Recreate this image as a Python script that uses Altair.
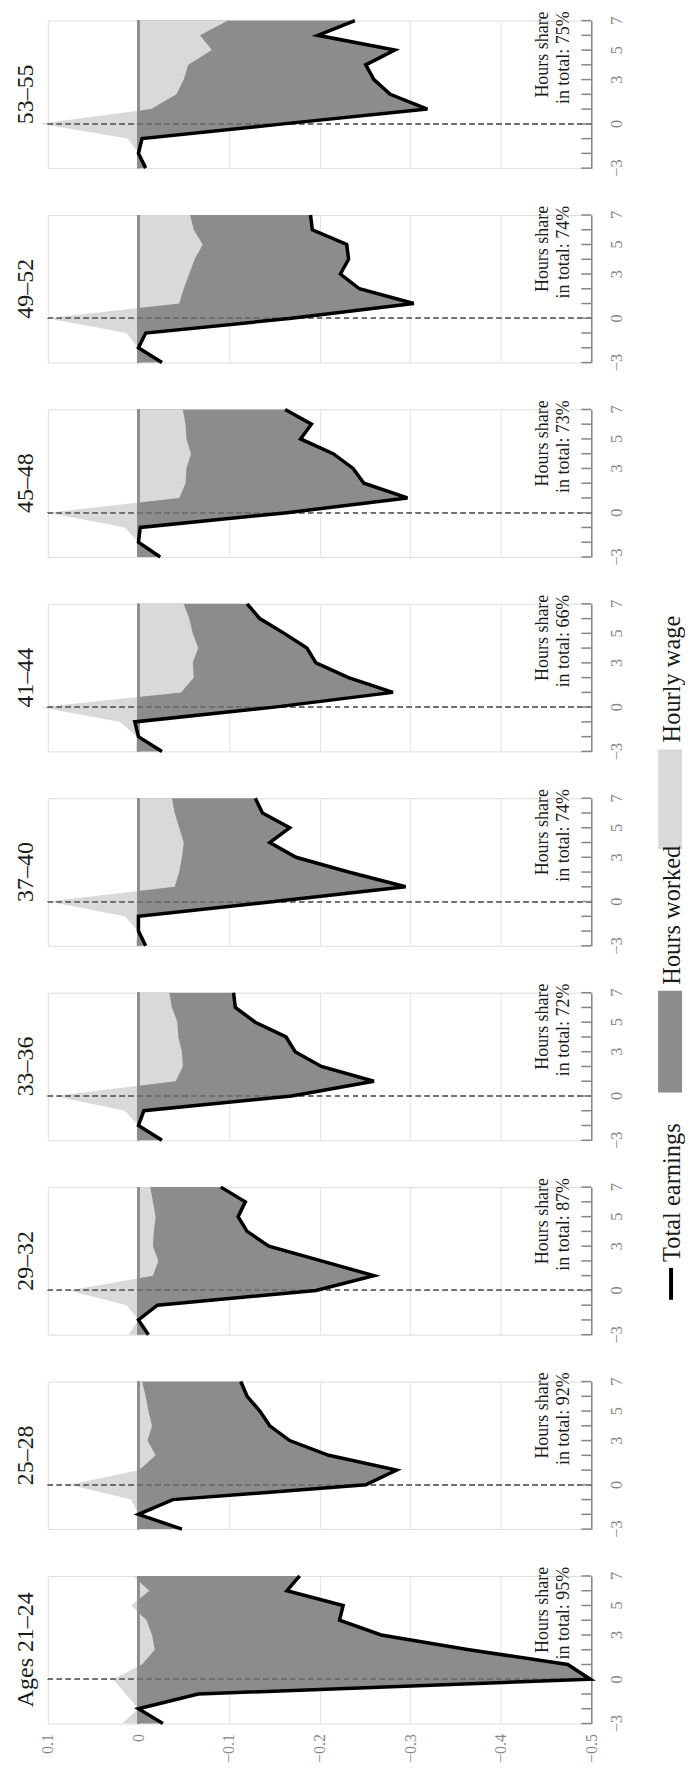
import altair as alt
import pandas as pd

# ---------------- data ----------------
times = [-3, -2, -1, 0, 1, 2, 3, 4, 5, 6, 7]

groups = ["53–55", "49–52", "45–48", "41–44", "37–40", "33–36", "29–32", "25–28", "Ages 21–24"]
hours_share = ["75%", "74%", "73%", "66%", "74%", "72%", "87%", "92%", "95%"]

total_53_55 = [-0.008, 0.0, -0.004, -0.160, -0.319, -0.278, -0.260, -0.251, -0.283, -0.198, -0.239]
wage_53_55 = [0.0, 0.0, 0.012, 0.109, -0.014, -0.042, -0.050, -0.055, -0.081, -0.068, -0.099]

total_49_52 = [-0.026, 0.0, -0.008, -0.169, -0.304, -0.244, -0.223, -0.232, -0.230, -0.192, -0.190]
wage_49_52 = [0.0, 0.001, 0.013, 0.101, -0.045, -0.050, -0.056, -0.062, -0.071, -0.061, -0.057]

total_45_48 = [-0.024, 0.0, -0.002, -0.164, -0.297, -0.249, -0.237, -0.215, -0.179, -0.191, -0.162]
wage_45_48 = [0.0, 0.0, 0.015, 0.100, -0.045, -0.052, -0.053, -0.058, -0.053, -0.052, -0.049]

total_41_44 = [-0.026, 0.0, 0.004, -0.150, -0.281, -0.232, -0.196, -0.186, -0.161, -0.134, -0.120]
wage_41_44 = [0.003, 0.002, 0.020, 0.108, -0.047, -0.061, -0.060, -0.066, -0.060, -0.056, -0.050]

total_37_40 = [-0.008, 0.0, 0.0, -0.150, -0.295, -0.232, -0.174, -0.145, -0.167, -0.137, -0.129]
wage_37_40 = [0.003, 0.001, 0.015, 0.100, -0.040, -0.045, -0.048, -0.050, -0.045, -0.040, -0.037]

total_33_36 = [-0.026, 0.0, -0.006, -0.169, -0.260, -0.202, -0.173, -0.163, -0.129, -0.107, -0.105]
wage_33_36 = [0.0, 0.0, 0.015, 0.093, -0.041, -0.049, -0.048, -0.044, -0.043, -0.037, -0.034]

total_29_32 = [-0.011, 0.0, -0.021, -0.196, -0.260, -0.202, -0.144, -0.120, -0.110, -0.118, -0.091]
wage_29_32 = [0.011, 0.0, 0.013, 0.077, -0.016, -0.022, -0.016, -0.017, -0.019, -0.016, -0.013]

total_25_28 = [-0.048, 0.0, -0.038, -0.251, -0.285, -0.210, -0.167, -0.145, -0.134, -0.120, -0.113]
wage_25_28 = [0.0, 0.0, 0.008, 0.076, -0.001, -0.019, -0.010, -0.015, -0.011, -0.008, -0.004]

total_21_24 = [-0.027, 0.0, -0.066, -0.499, -0.474, -0.365, -0.268, -0.222, -0.226, -0.164, -0.178]
wage_21_24 = [0.018, 0.0, 0.014, 0.028, -0.004, -0.018, -0.015, -0.009, 0.008, -0.012, 0.006]

totals = [total_53_55, total_49_52, total_45_48, total_41_44, total_37_40,
          total_33_36, total_29_32, total_25_28, total_21_24]
wages = [wage_53_55, wage_49_52, wage_45_48, wage_41_44, wage_37_40,
         wage_33_36, wage_29_32, wage_25_28, wage_21_24]

value_ticks = [0.1, 0, -0.1, -0.2, -0.3, -0.4, -0.5]
time_labels = [-3, 0, 3, 5, 7]
legend_labels = ["Total earnings", "Hours worked", "Hourly wage"]

# ---------------- style ----------------
FONT = "Liberation Serif"
W, H = 545, 148
DARK = "#8c8c8c"
LIGHT = "#d9d9d9"
AXIS_GRAY = "#868686"

xscale = alt.Scale(domain=[0.1, -0.5], nice=False, zero=False)
yscale = alt.Scale(domain=[-3, 7], nice=False, zero=False)

time_label_df = pd.DataFrame({
    "t": time_labels,
    "lab": [str(v).replace("-", "\u2212") for v in time_labels],
})


def panel(idx):
    name = groups[idx]
    last = idx == len(groups) - 1
    df = pd.DataFrame({"t": times, "total": totals[idx], "wage": wages[idx]})

    xaxis = alt.Axis(
        values=value_ticks, format="~g", grid=True, gridColor="#e4e4e4", gridWidth=1,
        labels=last, ticks=False, domain=False, title=None, labelOverlap=False,
        labelAngle=270, labelAlign="right", labelBaseline="middle", labelPadding=10,
        labelFont=FONT, labelFontSize=16, labelColor=AXIS_GRAY,
    )
    yaxis = alt.Axis(
        orient="right", values=time_labels, grid=False, ticks=False, tickSize=0, labels=False,
        domain=True, domainColor=AXIS_GRAY, domainWidth=1.5, title=None,
    )

    base = alt.Chart(df)
    y_t = alt.Y("t:Q", scale=yscale, axis=yaxis)

    dark = base.mark_area(orient="horizontal", color=DARK).encode(
        x=alt.X("total:Q", scale=xscale, axis=xaxis, stack=None), x2=alt.datum(0), y=y_t)
    light = base.mark_area(orient="horizontal", color=LIGHT).encode(
        x=alt.X("wage:Q", stack=None), x2=alt.datum(0), y=alt.Y("t:Q"))
    zero_rule = base.mark_rule(color=DARK, strokeWidth=1.5).encode(x=alt.datum(0))
    event_rule = base.mark_rule(color="#6f6f6f", strokeWidth=1.2, strokeDash=[5, 4]).encode(
        y=alt.datum(0))
    ticks = base.mark_rule(color=AXIS_GRAY, strokeWidth=1.5).encode(
        x=alt.value(W - 10), x2=alt.value(W), y=alt.Y("t:Q"))
    line = base.mark_line(color="black", strokeWidth=3.5, strokeJoin="miter").encode(
        x=alt.X("total:Q"), y=alt.Y("t:Q"), order=alt.Order("t:Q"))

    tlabels = alt.Chart(time_label_df).mark_text(
        angle=270, align="center", baseline="top", font=FONT, fontSize=16.5, color=AXIS_GRAY,
    ).encode(x=alt.value(W + 18), y=alt.Y("t:Q"), text="lab:N")

    ann_df = pd.DataFrame({"label": [f"Hours share\nin total: {hours_share[idx]}"]})
    ann = alt.Chart(ann_df).mark_text(
        angle=270, align="right", baseline="middle", lineBreak="\n", lineHeight=21.6,
        font=FONT, fontSize=18, color="#1a1a1a",
    ).encode(x=alt.datum(-0.4465), y=alt.datum(7.62), text="label:N")

    title_df = pd.DataFrame({"g": [name]})
    title = alt.Chart(title_df).mark_text(
        angle=270, align="center", baseline="alphabetic", font=FONT, fontSize=24, color="#1a1a1a",
    ).encode(x=alt.value(-15), y=alt.datum(2), text="g:N")

    layers = [dark, light, zero_rule, event_rule, ticks, line, tlabels, ann, title]

    if idx == 3:
        leg_df = pd.DataFrame({"k": [0]})
        lb = alt.Chart(leg_df)
        leg_light = lb.mark_rect(color=LIGHT).encode(
            x=alt.value(612), x2=alt.value(636), y=alt.value(146), y2=alt.value(246))
        leg_dark = lb.mark_rect(color=DARK).encode(
            x=alt.value(612), x2=alt.value(636), y=alt.value(388), y2=alt.value(490))
        leg_line = lb.mark_rule(color="black", strokeWidth=4).encode(
            x=alt.value(625), y=alt.value(666), y2=alt.value(698))
        txt = dict(angle=270, align="left", baseline="alphabetic", font=FONT, fontSize=24.5,
                   color="#1a1a1a")
        leg_t1 = lb.mark_text(**txt).encode(
            x=alt.value(634), y=alt.value(660), text=alt.value(legend_labels[0]))
        leg_t2 = lb.mark_text(**txt).encode(
            x=alt.value(634), y=alt.value(382), text=alt.value(legend_labels[1]))
        leg_t3 = lb.mark_text(**txt).encode(
            x=alt.value(634), y=alt.value(139), text=alt.value(legend_labels[2]))
        layers += [leg_light, leg_dark, leg_line, leg_t1, leg_t2, leg_t3]

    return alt.layer(*layers).properties(width=W, height=H)


chart = alt.vconcat(*[panel(i) for i in range(len(groups))], spacing=47, bounds="flush").properties(
    padding={"left": 5, "top": 0, "right": 0, "bottom": 5}
).configure_view(stroke=None).configure(font=FONT, background="white")

chart.save("out.html", embed_options={"renderer": "svg", "actions": False})
